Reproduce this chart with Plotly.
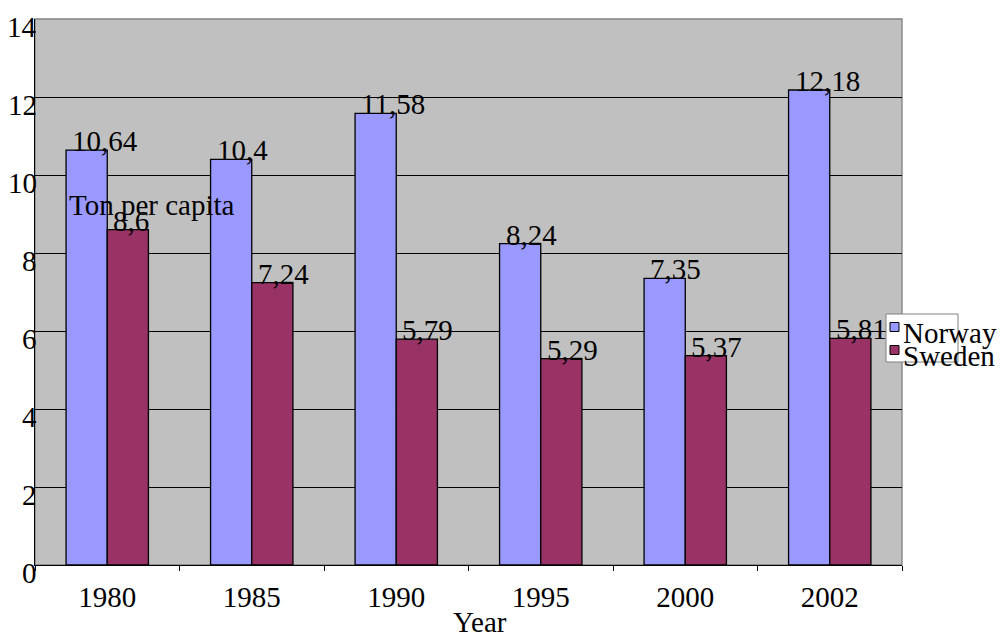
import plotly.graph_objects as go

# Emissions per capita (tonnes), Norway vs Sweden
years = ["1980", "1985", "1990", "1995", "2000", "2002"]
norway = [10.64, 10.4, 11.58, 8.24, 7.35, 12.18]
sweden = [8.6, 7.24, 5.79, 5.29, 5.37, 5.81]
series_names = ["Norway", "Sweden"]
series_colors = ["#9999FF", "#993366"]
y_ticks = [0, 2, 4, 6, 8, 10, 12, 14]

W, H = 1003, 637
L, R, T, B = 35, 101, 19, 72
plot_w = W - L - R
plot_h = H - T - B
FONT = "Liberation Serif"
FS = 29


def px_x(p):
    return (p - L) / plot_w


def px_y(p):
    return (H - B - p) / plot_h


def fmt(v):
    return f"{v:g}".replace(".", ",")


fig = go.Figure()
for name, vals, col in zip(series_names, [norway, sweden], series_colors):
    fig.add_trace(go.Bar(
        x=years, y=vals, name=name,
        marker=dict(color=col, line=dict(color="black", width=1.3)),
        showlegend=False,
    ))

bargap = 0.43
cat_px = plot_w / len(years)
bar_px = cat_px * (1 - bargap) / 2

annotations = []
# value labels; category axes place annotations by category index
for k, vals in enumerate([norway, sweden]):
    left_edge = -bar_px if k == 0 else 0
    for i, v in enumerate(vals):
        annotations.append(dict(
            x=i, y=v, xref="x", yref="y", text=fmt(v),
            showarrow=False, xanchor="left", yanchor="bottom",
            xshift=left_edge + 4, yshift=-9,
            font=dict(family=FONT, size=FS, color="black"),
        ))

# y tick labels, set just below each gridline
for t in y_ticks:
    annotations.append(dict(
        x=0, y=t, xref="paper", yref="y", text=str(t),
        showarrow=False, xanchor="right", yanchor="middle",
        xshift=4, yshift=-8,
        font=dict(family=FONT, size=FS, color="black"),
    ))

# axis titles
annotations.append(dict(
    x=px_x(152), y=px_y(205), xref="paper", yref="paper", text="Ton per capita",
    showarrow=False, xanchor="center", yanchor="middle",
    font=dict(family=FONT, size=FS, color="black"),
))
annotations.append(dict(
    x=px_x(480), y=px_y(622), xref="paper", yref="paper", text="Year",
    showarrow=False, xanchor="center", yanchor="middle",
    font=dict(family=FONT, size=FS, color="black"),
))

shapes = [
    # plot area frame
    dict(type="rect", xref="paper", yref="paper", x0=0, x1=1, y0=0, y1=1,
         line=dict(color="#808080", width=1.3), layer="below"),
    # legend box
    dict(type="rect", xref="paper", yref="paper",
         x0=px_x(886), x1=px_x(958), y0=px_y(362), y1=px_y(314),
         line=dict(color="#808080", width=1), fillcolor="white"),
]
legend_rows = [327, 350]
for name, col, cy in zip(series_names, series_colors, legend_rows):
    shapes.append(dict(type="rect", xref="paper", yref="paper",
                       x0=px_x(890), x1=px_x(899), y0=px_y(cy + 4.5), y1=px_y(cy - 4.5),
                       line=dict(color="black", width=1), fillcolor=col))
    annotations.append(dict(
        x=px_x(901), y=px_y(cy + 6), xref="paper", yref="paper", text=name,
        showarrow=False, xanchor="left", yanchor="middle",
        font=dict(family=FONT, size=FS, color="black"),
    ))

fig.update_layout(
    width=W, height=H,
    margin=dict(l=L, r=R, t=T, b=B, pad=0, autoexpand=False),
    paper_bgcolor="white", plot_bgcolor="#C0C0C0",
    barmode="group", bargap=bargap, bargroupgap=0,
    font=dict(family=FONT, size=FS, color="black"),
    annotations=annotations, shapes=shapes,
)
fig.update_xaxes(
    type="category", range=[-0.5, len(years) - 0.5],
    tickson="boundaries", ticks="outside", ticklen=5,
    tickcolor="black", showline=True, linecolor="black", linewidth=1.3,
    showgrid=False, tickfont=dict(family=FONT, size=FS), ticklabelstandoff=6,
)
fig.update_yaxes(
    range=[0, 14], tickvals=y_ticks, ticks="", showline=True,
    linecolor="black", linewidth=1.3, showgrid=True, gridcolor="black",
    gridwidth=1, zeroline=False, showticklabels=False,
)

fig.write_html("out.html")
